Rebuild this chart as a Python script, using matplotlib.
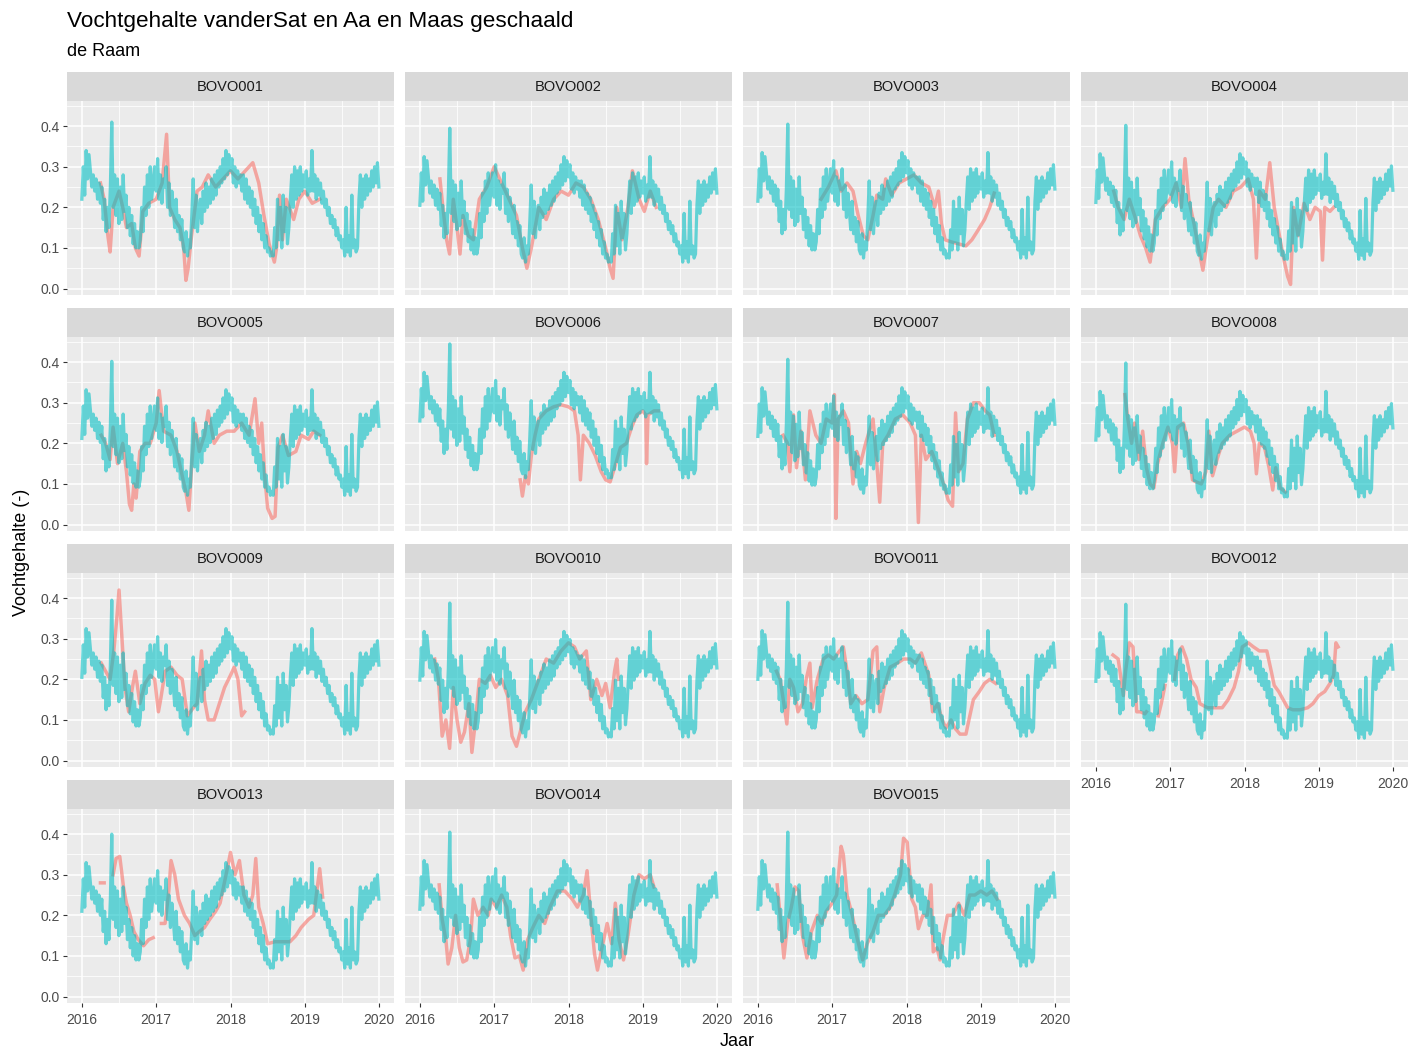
import numpy as np
import matplotlib.pyplot as plt
from matplotlib.ticker import FixedLocator

plt.rcParams['font.family'] = ['Liberation Sans', 'DejaVu Sans']

# vanderSat soil moisture, weekly values (starting 1 Jan of each year)
vds_2016 = [0.22, 0.30, 0.23, 0.34, 0.27, 0.33, 0.29, 0.25, 0.28, 0.24, 0.27, 0.22, 0.26,
            0.21, 0.25, 0.17, 0.22, 0.14, 0.20, 0.15, 0.25, 0.41, 0.20, 0.28, 0.18, 0.27,
            0.16, 0.25, 0.17, 0.28, 0.19, 0.23, 0.15, 0.20, 0.13, 0.18, 0.11, 0.16, 0.10,
            0.14, 0.10, 0.12, 0.20, 0.14, 0.25, 0.18, 0.28, 0.20, 0.30, 0.22, 0.26, 0.30]
vds_2017 = [0.24, 0.32, 0.22, 0.28, 0.21, 0.27, 0.25, 0.30, 0.20, 0.26, 0.18, 0.24, 0.20,
            0.15, 0.22, 0.14, 0.18, 0.12, 0.17, 0.10, 0.09, 0.14, 0.08, 0.12, 0.10, 0.18,
            0.27, 0.15, 0.23, 0.14, 0.20, 0.22, 0.16, 0.24, 0.19, 0.26, 0.20, 0.25, 0.21,
            0.27, 0.22, 0.28, 0.23, 0.29, 0.25, 0.30, 0.26, 0.32, 0.27, 0.34, 0.28, 0.33]
vds_2018 = [0.29, 0.32, 0.26, 0.30, 0.25, 0.29, 0.26, 0.28, 0.24, 0.28, 0.22, 0.27, 0.21,
            0.25, 0.20, 0.24, 0.18, 0.22, 0.16, 0.20, 0.14, 0.18, 0.12, 0.16, 0.10, 0.13,
            0.09, 0.10, 0.08, 0.09, 0.08, 0.15, 0.10, 0.22, 0.12, 0.20, 0.10, 0.23, 0.14,
            0.20, 0.11, 0.15, 0.22, 0.28, 0.20, 0.30, 0.22, 0.29, 0.23, 0.30, 0.24, 0.28]
vds_2019 = [0.25, 0.29, 0.23, 0.27, 0.24, 0.34, 0.24, 0.28, 0.22, 0.27, 0.23, 0.26, 0.21,
            0.24, 0.20, 0.22, 0.18, 0.20, 0.16, 0.18, 0.15, 0.17, 0.13, 0.15, 0.12, 0.13,
            0.10, 0.12, 0.08, 0.20, 0.09, 0.13, 0.08, 0.23, 0.10, 0.12, 0.09, 0.10, 0.22,
            0.28, 0.20, 0.27, 0.22, 0.28, 0.23, 0.27, 0.24, 0.29, 0.25, 0.30, 0.26, 0.31, 0.25]

stations = ['BOVO001', 'BOVO002', 'BOVO003', 'BOVO004', 'BOVO005',
            'BOVO006', 'BOVO007', 'BOVO008', 'BOVO009', 'BOVO010',
            'BOVO011', 'BOVO012', 'BOVO013', 'BOVO014', 'BOVO015']
# scaling shift of the vanderSat series per station
vds_shift = [0.0, -0.015, -0.005, -0.008, -0.008, 0.035, -0.003, -0.012,
             -0.015, -0.022, -0.02, -0.025, -0.01, -0.005, -0.005]

# Aa en Maas sensor data (decimal year, value); None = gap
aam_001 = [(2016.25, 0.26), (2016.30, 0.22), (2016.35, 0.13), (2016.38, 0.09), (2016.42, 0.20),
           (2016.50, 0.24), (2016.55, 0.20), (2016.60, 0.15), (2016.67, 0.16), (2016.72, 0.10),
           (2016.77, 0.08), (2016.82, 0.19), (2016.90, 0.21), (2017.00, 0.22), (2017.08, 0.26),
           (2017.14, 0.38), (2017.18, 0.20), (2017.25, 0.17), (2017.32, 0.15), (2017.37, 0.10),
           (2017.40, 0.02), (2017.43, 0.05), (2017.47, 0.12), (2017.55, 0.24), (2017.62, 0.25),
           (2017.70, 0.28), (2017.80, 0.25), (2017.90, 0.27), (2018.00, 0.29), (2018.10, 0.27),
           (2018.20, 0.29), (2018.30, 0.31), (2018.38, 0.26), (2018.45, 0.18), (2018.52, 0.11),
           (2018.59, 0.065), (2018.62, 0.10), (2018.66, 0.23), (2018.70, 0.12), (2018.75, 0.22),
           (2018.85, 0.17), (2018.92, 0.22), (2019.00, 0.24), (2019.10, 0.21), (2019.20, 0.22)]
aam_002 = [(2016.27, 0.27), (2016.31, 0.20), (2016.36, 0.12), (2016.40, 0.085), (2016.45, 0.22),
           (2016.50, 0.15), (2016.54, 0.085), (2016.58, 0.18), (2016.65, 0.13), (2016.72, 0.12),
           (2016.80, 0.22), (2016.90, 0.25), (2017.00, 0.30), (2017.10, 0.26), (2017.20, 0.22),
           (2017.30, 0.18), (2017.38, 0.10), (2017.44, 0.05), (2017.50, 0.10), (2017.60, 0.20),
           (2017.70, 0.17), (2017.80, 0.22), (2017.90, 0.24), (2018.00, 0.23), (2018.10, 0.26),
           (2018.20, 0.25), (2018.30, 0.22), (2018.40, 0.17), (2018.50, 0.10), (2018.56, 0.05),
           (2018.60, 0.025), (2018.65, 0.20), (2018.72, 0.12), (2018.80, 0.20), (2018.86, 0.29),
           (2018.95, 0.22), (2019.02, 0.19), (2019.10, 0.24), (2019.18, 0.20)]
aam_003 = [(2016.85, 0.22), (2016.95, 0.25), (2017.05, 0.29), (2017.12, 0.24), (2017.20, 0.26),
           (2017.28, 0.24), (2017.35, 0.18), (2017.42, 0.13), (2017.48, 0.12), (2017.55, 0.18),
           (2017.60, 0.23), (2017.68, 0.22), (2017.72, 0.27), (2017.80, 0.23), (2017.90, 0.26),
           (2018.00, 0.27), (2018.10, 0.28), (2018.20, 0.26), (2018.30, 0.25), (2018.38, 0.20),
           (2018.43, 0.24), (2018.47, 0.16), (2018.52, 0.12), (2018.60, 0.115), (2018.70, 0.11),
           (2018.80, 0.105), (2018.88, 0.12), (2018.95, 0.14), (2019.05, 0.17), (2019.12, 0.20),
           (2019.18, 0.235)]
aam_004 = [(2016.24, 0.24), (2016.30, 0.20), (2016.38, 0.17), (2016.45, 0.22), (2016.52, 0.18),
           (2016.60, 0.13), (2016.67, 0.10), (2016.73, 0.065), (2016.80, 0.17), (2016.90, 0.20),
           (2017.00, 0.22), (2017.08, 0.26), (2017.15, 0.20), (2017.20, 0.32), (2017.25, 0.22),
           (2017.32, 0.16), (2017.38, 0.10), (2017.44, 0.045), (2017.50, 0.12), (2017.58, 0.20),
           (2017.65, 0.22), (2017.75, 0.20), (2017.85, 0.24), (2017.95, 0.25), (2018.05, 0.27),
           (2018.12, 0.22), (2018.16, 0.075), (2018.20, 0.24), (2018.28, 0.22), (2018.34, 0.31),
           (2018.40, 0.20), (2018.46, 0.14), (2018.52, 0.08), (2018.58, 0.03), (2018.62, 0.01),
           (2018.66, 0.20), (2018.72, 0.13), (2018.80, 0.21), (2018.88, 0.17), (2018.95, 0.20),
           (2019.02, 0.19), (2019.05, 0.07), (2019.08, 0.20), (2019.15, 0.19), (2019.20, 0.20)]
aam_005 = [(2016.26, 0.22), (2016.32, 0.20), (2016.38, 0.16), (2016.42, 0.24), (2016.48, 0.15),
           (2016.55, 0.20), (2016.60, 0.13), (2016.64, 0.05), (2016.67, 0.035), (2016.70, 0.10),
           (2016.73, 0.065), (2016.78, 0.18), (2016.85, 0.20), (2016.92, 0.20), (2017.00, 0.25),
           (2017.04, 0.33), (2017.10, 0.23), (2017.20, 0.22), (2017.28, 0.18), (2017.35, 0.12),
           (2017.40, 0.08), (2017.44, 0.035), (2017.48, 0.15), (2017.52, 0.25), (2017.58, 0.18),
           (2017.65, 0.22), (2017.70, 0.28), (2017.78, 0.20), (2017.85, 0.22), (2017.95, 0.23),
           (2018.05, 0.23), (2018.15, 0.25), (2018.25, 0.22), (2018.33, 0.31), (2018.38, 0.20),
           (2018.42, 0.25), (2018.46, 0.12), (2018.50, 0.04), (2018.56, 0.015), (2018.60, 0.02),
           (2018.64, 0.19), (2018.70, 0.22), (2018.78, 0.17), (2018.88, 0.18), (2018.95, 0.22),
           (2019.05, 0.21), (2019.12, 0.23), (2019.20, 0.22)]
aam_006 = [(2017.35, 0.11), (2017.38, 0.07), (2017.42, 0.12), (2017.46, 0.10), (2017.50, 0.17),
           (2017.55, 0.22), (2017.60, 0.26), (2017.70, 0.28), (2017.80, 0.29), (2017.90, 0.295),
           (2018.00, 0.29), (2018.08, 0.28), (2018.13, 0.22), (2018.16, 0.11), (2018.20, 0.22),
           (2018.28, 0.20), (2018.36, 0.17), (2018.44, 0.13), (2018.50, 0.11), (2018.56, 0.105),
           (2018.62, 0.14), (2018.70, 0.19), (2018.78, 0.20), (2018.85, 0.24), (2018.92, 0.27),
           (2019.00, 0.28), (2019.04, 0.27), (2019.05, 0.15), (2019.07, 0.27), (2019.15, 0.28),
           (2019.21, 0.28)]
aam_007 = [(2016.34, 0.22), (2016.40, 0.20), (2016.43, 0.13), (2016.48, 0.27), (2016.52, 0.14),
           (2016.58, 0.23), (2016.64, 0.11), (2016.70, 0.28), (2016.78, 0.22), (2016.85, 0.20),
           (2016.92, 0.26), (2017.00, 0.25), (2017.03, 0.32), (2017.05, 0.015), (2017.08, 0.26),
           (2017.15, 0.28), (2017.22, 0.25), (2017.28, 0.10), (2017.33, 0.18), (2017.38, 0.15),
           (2017.45, 0.20), (2017.55, 0.26), (2017.60, 0.15), (2017.64, 0.055), (2017.68, 0.20),
           (2017.75, 0.22), (2017.85, 0.26), (2017.95, 0.27), (2018.05, 0.25), (2018.12, 0.22),
           (2018.16, 0.005), (2018.20, 0.22), (2018.26, 0.16), (2018.34, 0.18), (2018.42, 0.14),
           (2018.50, 0.10), (2018.56, 0.06), (2018.62, 0.045), (2018.66, 0.275), (2018.70, 0.13),
           (2018.76, 0.15), (2018.82, 0.26), (2018.90, 0.30), (2018.98, 0.30), (2019.06, 0.28),
           (2019.12, 0.27), (2019.18, 0.22)]
aam_008 = [(2016.39, 0.32), (2016.43, 0.26), (2016.48, 0.20), (2016.52, 0.25), (2016.58, 0.16),
           (2016.63, 0.23), (2016.68, 0.14), (2016.73, 0.10), (2016.78, 0.09), (2016.83, 0.15),
           (2016.90, 0.20), (2016.97, 0.24), (2017.03, 0.20), (2017.06, 0.13), (2017.10, 0.24),
           (2017.18, 0.25), (2017.24, 0.20), (2017.30, 0.11), (2017.35, 0.105), (2017.42, 0.10),
           (2017.48, 0.13), (2017.52, 0.23), (2017.57, 0.12), (2017.63, 0.16), (2017.70, 0.20),
           (2017.80, 0.22), (2017.90, 0.23), (2018.00, 0.24), (2018.08, 0.23), (2018.13, 0.20),
           (2018.16, 0.125), (2018.20, 0.20), (2018.27, 0.19), (2018.33, 0.14), (2018.38, 0.085),
           (2018.42, 0.14), (2018.48, 0.09), (2018.55, 0.08)]
aam_009 = [(2016.26, 0.24), (2016.32, 0.22), (2016.38, 0.20), (2016.43, 0.27), (2016.47, 0.35),
           (2016.50, 0.42), (2016.54, 0.30), (2016.58, 0.18), (2016.63, 0.12), (2016.68, 0.18),
           (2016.72, 0.22), (2016.78, 0.14), (2016.85, 0.19), (2016.92, 0.21), (2016.98, 0.20),
           (2017.03, 0.12), (2017.06, 0.15), (2017.12, 0.22), (2017.20, 0.23), (2017.28, 0.21),
           (2017.35, 0.20), (2017.42, 0.11), (2017.50, 0.13), (2017.55, 0.14), (2017.61, 0.27),
           (2017.65, 0.15), (2017.70, 0.10), (2017.78, 0.10), (2017.85, 0.14), (2017.92, 0.18),
           (2018.00, 0.21), (2018.05, 0.23), (2018.10, 0.20), (2018.15, 0.11), (2018.19, 0.12)]
aam_010 = [(2016.20, 0.25), (2016.25, 0.20), (2016.30, 0.06), (2016.35, 0.10), (2016.40, 0.03),
           (2016.45, 0.18), (2016.50, 0.10), (2016.55, 0.045), (2016.60, 0.07), (2016.66, 0.14),
           (2016.70, 0.02), (2016.75, 0.10), (2016.80, 0.20), (2016.88, 0.19), (2016.95, 0.21),
           (2017.02, 0.18), (2017.10, 0.20), (2017.18, 0.16), (2017.24, 0.06), (2017.30, 0.035),
           (2017.35, 0.07), (2017.42, 0.12), (2017.50, 0.15), (2017.60, 0.20), (2017.70, 0.25),
           (2017.80, 0.24), (2017.90, 0.27), (2018.00, 0.29), (2018.08, 0.28), (2018.15, 0.25),
           (2018.24, 0.27), (2018.30, 0.15), (2018.38, 0.20), (2018.45, 0.16), (2018.50, 0.19),
           (2018.56, 0.13), (2018.62, 0.22), (2018.65, 0.25), (2018.67, 0.20)]
aam_011 = [(2016.25, 0.22), (2016.30, 0.20), (2016.35, 0.14), (2016.39, 0.09), (2016.43, 0.20),
           (2016.48, 0.18), (2016.54, 0.12), (2016.60, 0.14), (2016.65, 0.20), (2016.70, 0.24),
           (2016.73, 0.13), (2016.80, 0.20), (2016.88, 0.25), (2016.95, 0.26), (2017.02, 0.25),
           (2017.10, 0.27), (2017.15, 0.28), (2017.20, 0.22), (2017.25, 0.14), (2017.32, 0.16),
           (2017.40, 0.14), (2017.48, 0.15), (2017.55, 0.27), (2017.60, 0.28), (2017.64, 0.12),
           (2017.70, 0.18), (2017.78, 0.23), (2017.88, 0.24), (2017.96, 0.25), (2018.05, 0.25),
           (2018.12, 0.24), (2018.20, 0.265), (2018.30, 0.21), (2018.35, 0.12), (2018.42, 0.14),
           (2018.48, 0.10), (2018.53, 0.08), (2018.60, 0.10), (2018.65, 0.08), (2018.72, 0.065),
           (2018.80, 0.065), (2018.84, 0.10), (2018.90, 0.15), (2018.98, 0.17), (2019.05, 0.19),
           (2019.12, 0.20), (2019.20, 0.19)]
aam_012 = [(2016.23, 0.26), (2016.30, 0.25), (2016.34, 0.20), (2016.37, 0.16), (2016.40, 0.22),
           (2016.45, 0.29), (2016.50, 0.28), (2016.55, 0.12), (2016.60, 0.12), (2016.66, 0.115),
           (2016.68, 0.12), (2016.76, None), (2016.84, 0.11), (2016.88, 0.14), (2016.93, 0.185),
           (2017.00, None), (2017.06, 0.20), (2017.10, 0.26), (2017.16, 0.28), (2017.22, 0.25),
           (2017.28, 0.20), (2017.35, 0.18), (2017.40, 0.14), (2017.50, 0.13), (2017.60, 0.13),
           (2017.70, 0.13), (2017.78, 0.15), (2017.86, 0.18), (2017.92, 0.22), (2017.97, 0.28),
           (2018.05, 0.29), (2018.12, 0.28), (2018.20, 0.27), (2018.30, 0.27), (2018.36, 0.22),
           (2018.40, 0.185), (2018.46, 0.17), (2018.52, 0.15), (2018.58, 0.13), (2018.65, 0.125),
           (2018.75, 0.125), (2018.85, 0.13), (2018.92, 0.14), (2019.00, 0.16), (2019.08, 0.17),
           (2019.15, 0.19), (2019.20, 0.21), (2019.23, 0.29), (2019.26, 0.28)]
aam_013 = [(2016.25, 0.28), (2016.30, 0.28), (2016.36, None), (2016.42, 0.30), (2016.46, 0.34),
           (2016.51, 0.345), (2016.56, 0.27), (2016.60, 0.23), (2016.65, 0.20), (2016.70, 0.16),
           (2016.76, 0.14), (2016.83, 0.125), (2016.90, 0.14), (2016.96, 0.145), (2017.02, None),
           (2017.07, 0.18), (2017.12, 0.18), (2017.17, 0.26), (2017.20, 0.335), (2017.25, 0.30),
           (2017.30, 0.24), (2017.38, 0.20), (2017.45, 0.18), (2017.52, 0.15), (2017.58, 0.16),
           (2017.65, 0.17), (2017.72, 0.19), (2017.80, 0.21), (2017.86, 0.23), (2017.94, 0.30),
           (2018.00, 0.355), (2018.06, 0.30), (2018.12, 0.335), (2018.18, 0.25), (2018.25, 0.22),
           (2018.30, 0.25), (2018.34, 0.34), (2018.38, 0.22), (2018.44, 0.18), (2018.50, 0.13),
           (2018.60, 0.135), (2018.70, 0.135), (2018.80, 0.135), (2018.88, 0.15), (2018.95, 0.17),
           (2019.05, 0.19), (2019.12, 0.20), (2019.20, 0.315), (2019.24, 0.245)]
aam_014 = [(2016.26, 0.275), (2016.30, 0.19), (2016.35, 0.14), (2016.38, 0.08), (2016.43, 0.12),
           (2016.48, 0.20), (2016.53, 0.12), (2016.58, 0.085), (2016.63, 0.09), (2016.68, 0.14),
           (2016.72, 0.24), (2016.78, 0.20), (2016.85, 0.22), (2016.92, 0.20), (2016.96, 0.24),
           (2017.03, 0.22), (2017.10, 0.25), (2017.17, 0.22), (2017.22, 0.15), (2017.28, 0.095),
           (2017.34, 0.10), (2017.39, 0.065), (2017.45, 0.14), (2017.52, 0.17), (2017.60, 0.20),
           (2017.68, 0.18), (2017.75, 0.22), (2017.85, 0.26), (2017.95, 0.26), (2018.05, 0.24),
           (2018.12, 0.22), (2018.20, 0.25), (2018.25, 0.31), (2018.30, 0.20), (2018.35, 0.105),
           (2018.39, 0.065), (2018.45, 0.12), (2018.52, 0.18), (2018.58, 0.13), (2018.63, 0.23),
           (2018.68, 0.14), (2018.74, 0.09), (2018.80, 0.15), (2018.88, 0.25), (2018.95, 0.30),
           (2019.02, 0.29), (2019.10, 0.30), (2019.15, 0.27)]
aam_015 = [(2016.26, 0.275), (2016.30, 0.20), (2016.35, 0.095), (2016.40, 0.18), (2016.45, 0.22),
           (2016.50, 0.27), (2016.55, 0.26), (2016.60, 0.15), (2016.66, 0.095), (2016.72, 0.16),
           (2016.80, 0.20), (2016.86, 0.18), (2016.92, 0.21), (2017.00, 0.23), (2017.06, 0.25),
           (2017.12, 0.37), (2017.15, 0.35), (2017.20, 0.25), (2017.27, 0.20), (2017.34, 0.14),
           (2017.41, 0.09), (2017.47, 0.13), (2017.55, 0.16), (2017.62, 0.20), (2017.70, 0.20),
           (2017.78, 0.22), (2017.84, 0.25), (2017.92, 0.30), (2017.96, 0.39), (2018.01, 0.38),
           (2018.07, 0.24), (2018.12, 0.22), (2018.16, 0.167), (2018.22, 0.20), (2018.28, 0.20),
           (2018.33, 0.275), (2018.36, 0.11), (2018.41, 0.12), (2018.45, 0.09), (2018.50, 0.15),
           (2018.55, 0.20), (2018.62, 0.20), (2018.70, 0.23), (2018.78, 0.20), (2018.85, 0.25),
           (2018.92, 0.25), (2019.00, 0.26), (2019.08, 0.25), (2019.15, 0.26), (2019.22, 0.24)]

aam_series = [aam_001, aam_002, aam_003, aam_004, aam_005, aam_006, aam_007, aam_008,
              aam_009, aam_010, aam_011, aam_012, aam_013, aam_014, aam_015]

year_ticks = [2016, 2017, 2018, 2019, 2020]
moist_ticks = [0.0, 0.1, 0.2, 0.3, 0.4]

RED = '#F8766D'
CYAN = '#00BFC4'

# weekly time axis for the vanderSat series
vds_x = []
vds_y = []
for yr, vals in zip([2016, 2017, 2018, 2019], [vds_2016, vds_2017, vds_2018, vds_2019]):
    vds_x.extend(yr + np.arange(len(vals)) * 7 / 365.25)
    vds_y.extend(vals)
vds_x = np.array(vds_x)
vds_y = np.array(vds_y)

W, H = 1412, 1051
fig = plt.figure(figsize=(W / 100, H / 100), dpi=100)
fig.patch.set_facecolor('white')

col_x = [(67, 394), (405, 732), (743, 1070), (1081, 1408)]
row_y = [(72, 101, 295), (308, 337, 531), (544, 573, 767), (780, 809, 1003)]


def rect(x0, y0, x1, y1):
    return [x0 / W, 1 - y1 / H, (x1 - x0) / W, (y1 - y0) / H]


for i, name in enumerate(stations):
    r, c = divmod(i, 4)
    x0, x1 = col_x[c]
    s0, p0, p1 = row_y[r]

    # facet strip
    sax = fig.add_axes(rect(x0, s0, x1, p0))
    sax.set_facecolor('#D9D9D9')
    sax.set_xticks([])
    sax.set_yticks([])
    for sp in sax.spines.values():
        sp.set_visible(False)
    sax.text(0.5, 0.47, name, ha='center', va='center', fontsize=10.5, color='#1A1A1A',
             transform=sax.transAxes)

    ax = fig.add_axes(rect(x0, p0, x1, p1))
    ax.set_facecolor('#EBEBEB')
    for sp in ax.spines.values():
        sp.set_visible(False)
    ax.set_xlim(2015.8, 2020.2)
    ax.set_ylim(-0.016, 0.462)
    ax.xaxis.set_major_locator(FixedLocator(year_ticks))
    ax.xaxis.set_minor_locator(FixedLocator([2016.5, 2017.5, 2018.5, 2019.5]))
    ax.yaxis.set_major_locator(FixedLocator(moist_ticks))
    ax.yaxis.set_minor_locator(FixedLocator([0.05, 0.15, 0.25, 0.35, 0.45]))
    ax.grid(which='major', color='white', lw=1.1)
    ax.grid(which='minor', color='white', lw=0.55)
    ax.set_axisbelow(True)
    ax.tick_params(which='minor', length=0)
    ax.tick_params(which='major', length=3, width=0.8, color='#333333',
                   labelsize=10, labelcolor='#4D4D4D', pad=2)
    ax.tick_params(axis='x', which='major', pad=4)

    if c == 0:
        ax.set_yticklabels(['%.1f' % v for v in moist_ticks])
    else:
        ax.tick_params(axis='y', which='major', length=0, labelleft=False)
    if i >= 11:
        ax.set_xticklabels([str(v) for v in year_ticks])
    else:
        ax.tick_params(axis='x', which='major', length=0, labelbottom=False)

    pts = np.array(aam_series[i], dtype=float)
    ax.plot(pts[:, 0], pts[:, 1], color=RED, lw=2.5, alpha=0.6, solid_joinstyle='round')
    ax.plot(vds_x, vds_y + vds_shift[i], color=CYAN, lw=2.3, alpha=0.58,
            solid_joinstyle='round')

fig.text(67 / W, 1 - 21 / H, 'Vochtgehalte vanderSat en Aa en Maas geschaald',
         fontsize=16.2, color='black', ha='left', va='center')
fig.text(67 / W, 1 - 51 / H, 'de Raam', fontsize=13, color='black', ha='left', va='center')
fig.text(737 / W, 1 - 1041 / H, 'Jaar', fontsize=13, ha='center', va='center')
fig.text(22 / W, 1 - 552 / H, 'Vochtgehalte (-)', fontsize=13, rotation=90,
         ha='center', va='center')

fig.savefig('out.png', dpi=100)
